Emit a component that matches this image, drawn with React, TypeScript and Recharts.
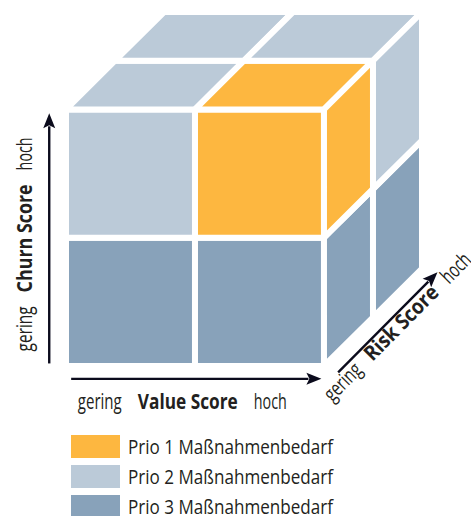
import React from "react";
import { ScatterChart, Scatter, XAxis, YAxis, ReferenceLine, Legend } from "recharts";

const lowLabel = "gering";
const highLabel = "hoch";
const axisNames = ["Value Score", "Churn Score", "Risk Score"];

const prioLabels = ["Prio 1 Maßnahmenbedarf", "Prio 2 Maßnahmenbedarf", "Prio 3 Maßnahmenbedarf"];
const prioColors = ["#FDB740", "#BBCAD8", "#88A2BA"];

// 2 x 2 x 2 cells (0 = gering, 1 = hoch) and their priority
const cellValue = [0, 1, 0, 1, 0, 1, 0, 1];
const cellChurn = [0, 0, 1, 1, 0, 0, 1, 1];
const cellRisk = [0, 0, 0, 0, 1, 1, 1, 1];
const cellPrio = [3, 3, 2, 1, 3, 3, 2, 2];

// axis arrows (value, churn, risk) in plot units
const arrowFromX = [0.04, -0.13, 2.11];
const arrowFromY = [-0.1, 0.02, -0.05];
const arrowToX = [1.98, -0.13, 2.88];
const arrowToY = [-0.1, 1.97, 0.73];

const DEPTH = 0.38; // oblique projection of the risk axis
const MAX = 2 + 2 * DEPTH;
const FONT = "'Open Sans', sans-serif";
const INK = "#0b0b1c";

const project = (v: number, c: number, r: number) => ({ x: v + DEPTH * r, y: c + DEPTH * r });

type Face = { key: string; prio: number; pts: { x: number; y: number }[] };
const faces: Face[] = [];
cellPrio.forEach((prio, i) => {
  const v = cellValue[i];
  const c = cellChurn[i];
  const r = cellRisk[i];
  if (r === 0)
    faces.push({ key: `front${i}`, prio, pts: [project(v, c, 0), project(v + 1, c, 0), project(v + 1, c + 1, 0), project(v, c + 1, 0)] });
  if (c === 1)
    faces.push({ key: `top${i}`, prio, pts: [project(v, 2, r), project(v + 1, 2, r), project(v + 1, 2, r + 1), project(v, 2, r + 1)] });
  if (v === 1)
    faces.push({ key: `side${i}`, prio, pts: [project(2, c, r), project(2, c, r + 1), project(2, c + 1, r + 1), project(2, c + 1, r)] });
});

const facePolygon = (fill: string) => (props: any) => (
  <polygon
    points={props.points.map((p: any) => `${p.x},${p.y}`).join(" ")}
    fill={fill}
    stroke="#fff"
    strokeWidth={6}
    strokeLinejoin="round"
  />
);

// label layout per arrow: shift along arrow, baseline offset, bold width, gap, word widths
const labelStyle = [
  { shift: -8.5, base: 30, bold: 100, gap: 16, low: 44, high: 33 },
  { shift: 0, base: -17, bold: 108, gap: 14, low: 45, high: 33 },
  { shift: 9, base: 17, bold: 96, gap: 13, low: 44, high: 33 },
];

const arrowShape = (i: number) => (props: any) => {
  const { x1, y1, x2, y2 } = props;
  const ang = Math.atan2(y2 - y1, x2 - x1);
  const len = Math.hypot(x2 - x1, y2 - y1);
  const mx = (x1 + x2) / 2;
  const my = (y1 + y2) / 2;
  const s = labelStyle[i];
  const head = 15;
  return (
    <g transform={`translate(${mx},${my}) rotate(${(ang * 180) / Math.PI})`}>
      <line x1={-len / 2} y1={0} x2={len / 2 - head + 2} y2={0} stroke={INK} strokeWidth={2.4} />
      <polygon points={`${len / 2},0 ${len / 2 - head},-6 ${len / 2 - head + 3},0 ${len / 2 - head},6`} fill={INK} />
      <g fontFamily={FONT} fontSize={21} fill="#231f20">
        <text x={s.shift - s.bold / 2 - s.gap} y={s.base} textAnchor="end" textLength={s.low} lengthAdjust="spacingAndGlyphs">
          {lowLabel}
        </text>
        <text x={s.shift} y={s.base} textAnchor="middle" fontWeight="bold" textLength={s.bold} lengthAdjust="spacingAndGlyphs">
          {axisNames[i]}
        </text>
        <text x={s.shift + s.bold / 2 + s.gap} y={s.base} textAnchor="start" textLength={s.high} lengthAdjust="spacingAndGlyphs">
          {highLabel}
        </text>
      </g>
    </g>
  );
};

const renderLegend = () => (
  <svg width={300} height={90}>
    {prioLabels.map((label, i) => (
      <g key={label} transform={`translate(0,${i * 30})`}>
        <rect x={0} y={0} width={49} height={23} fill={prioColors[i]} />
        <text x={57} y={19} fontFamily={FONT} fontSize={20} fill="#231f20" textLength={205} lengthAdjust="spacingAndGlyphs">
          {label}
        </text>
      </g>
    ))}
  </svg>
);

export default function App() {
  return (
    <div style={{ position: "absolute", left: 0, top: 0, width: 471, height: 516, background: "#fff" }}>
      <ScatterChart width={471} height={516} margin={{ top: 12, right: 49, bottom: 150, left: 66 }}>
        <XAxis type="number" dataKey="x" domain={[0, MAX]} hide />
        <YAxis type="number" dataKey="y" domain={[0, MAX]} hide />
        {faces.map((f) => (
          <Scatter
            key={f.key}
            data={f.pts}
            fill={prioColors[f.prio - 1]}
            shape={() => <g />}
            line={facePolygon(prioColors[f.prio - 1])}
            isAnimationActive={false}
          />
        ))}
        {axisNames.map((name, i) => (
          <ReferenceLine
            key={name}
            segment={[
              { x: arrowFromX[i], y: arrowFromY[i] },
              { x: arrowToX[i], y: arrowToY[i] },
            ]}
            ifOverflow="visible"
            shape={arrowShape(i)}
          />
        ))}
        <Legend
          layout="vertical"
          align="center"
          verticalAlign="middle"
          wrapperStyle={{ left: 71, top: 435, width: 300, height: 90 }}
          content={renderLegend}
        />
      </ScatterChart>
    </div>
  );
}
